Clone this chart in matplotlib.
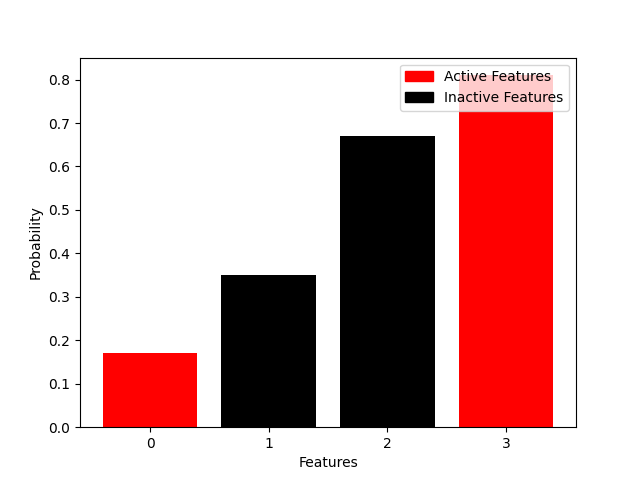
import matplotlib.pyplot as plt
from matplotlib.patches import Patch

features = [0, 1, 2, 3]
probabilities = [0.17, 0.35, 0.67, 0.81]
active = [True, False, False, True]

colors = ['red' if a else 'black' for a in active]

fig, ax = plt.subplots(figsize=(6.4, 4.8), dpi=100)
ax.bar(features, probabilities, color=colors)
ax.set_xticks(features)
ax.set_xlabel('Features')
ax.set_ylabel('Probability')

handles = [Patch(color='red', label='Active Features'),
           Patch(color='black', label='Inactive Features')]
ax.legend(handles=handles, loc='upper right')

plt.savefig('out.png')
